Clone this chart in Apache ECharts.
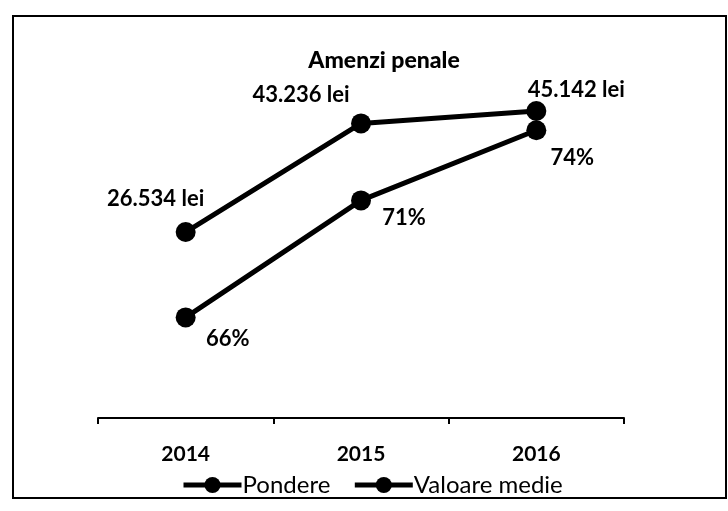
<!DOCTYPE html>
<html>
<head>
<meta charset="utf-8">
<script src="https://cdn.jsdelivr.net/npm/echarts@6/dist/echarts.min.js"></script>
<style>
html,body{margin:0;padding:0;background:#fff;}
#c{width:728px;height:511px;}
</style>
</head>
<body>
<div id="c"></div>
<script>
var categories = ['2014', '2015', '2016'];
var valoareMedie = [26534, 43236, 45142];
var pondere = [66, 71, 74];
var valoareLabels = ['26.534 lei', '43.236 lei', '45.142 lei'];
var pondereLabels = ['66%', '71%', '74%'];

var valoareOffsets = [[-30, -33], [-60, -29], [40, -21]];
var pondereOffsets = [[42, 22], [43, 18], [36, 28]];

var FONT = 'Lato, "Open Sans", sans-serif';

function buildData(values, labels, offsets) {
  return values.map(function (v, i) {
    return {
      value: v,
      label: {
        show: true,
        position: 'inside',
        offset: offsets[i],
        formatter: labels[i],
        color: '#000',
        fontFamily: FONT,
        fontSize: 22,
        fontWeight: 'bold'
      }
    };
  });
}

var chart = echarts.init(document.getElementById('c'), null, {renderer: 'canvas'});
chart.setOption({
  backgroundColor: '#fff',
  animation: false,
  graphic: [{
    type: 'rect',
    shape: {x: 13, y: 16, width: 713, height: 482},
    style: {fill: 'none', stroke: '#000', lineWidth: 2},
    silent: true
  }],
  title: {
    text: 'Amenzi penale',
    left: 379,
    top: 44,
    textAlign: 'center',
    textStyle: {fontFamily: FONT, fontSize: 23, fontWeight: 900, color: '#000'}
  },
  legend: {
    top: 468,
    left: 176,
    itemWidth: 58,
    itemHeight: 20,
    itemGap: 22,
    lineStyle: {width: 5},
    textStyle: {fontFamily: FONT, fontSize: 24, color: '#000', padding: [0, 0, 0, -4]},
    data: ['Pondere', 'Valoare medie']
  },
  grid: {left: 98, right: 104, top: 60, bottom: 93},
  xAxis: {
    type: 'category',
    data: categories,
    axisLine: {onZero: false, lineStyle: {color: '#000', width: 2}},
    axisTick: {show: true, length: 6, lineStyle: {color: '#000', width: 2}},
    axisLabel: {margin: 26, color: '#000', fontFamily: FONT, fontSize: 21, fontWeight: 'bold'}
  },
  yAxis: [
    {type: 'value', min: 61.7, max: 77, show: false, splitLine: {show: false}},
    {type: 'value', min: -2081, max: 52996, show: false, splitLine: {show: false}}
  ],
  series: [
    {
      name: 'Pondere',
      type: 'line',
      yAxisIndex: 0,
      data: buildData(pondere, pondereLabels, pondereOffsets),
      symbol: 'circle',
      symbolSize: 20,
      lineStyle: {color: '#000', width: 5},
      itemStyle: {color: '#000'}
    },
    {
      name: 'Valoare medie',
      type: 'line',
      yAxisIndex: 1,
      data: buildData(valoareMedie, valoareLabels, valoareOffsets),
      symbol: 'circle',
      symbolSize: 20,
      lineStyle: {color: '#000', width: 5},
      itemStyle: {color: '#000'}
    }
  ]
});
</script>
</body>
</html>
